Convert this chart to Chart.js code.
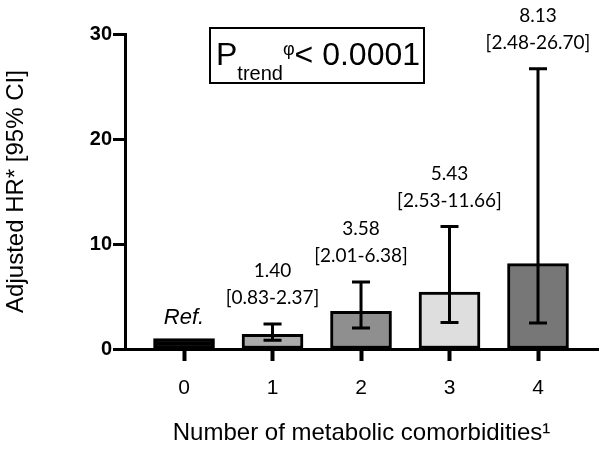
<!DOCTYPE html>
<html>
<head>
<meta charset="utf-8">
<script src="https://cdn.jsdelivr.net/npm/chart.js@4"></script>
<style>
  html, body { margin: 0; padding: 0; background: #fff; }
  #wrap { width: 604px; height: 453px; }
</style>
</head>
<body>
<div id="wrap"><canvas id="hrChart" width="604" height="453"></canvas></div>
<script>
// Données
const categories = [0, 1, 2, 3, 4];
const hrValues = [1.00, 1.40, 3.58, 5.43, 8.13];
const ciLow = [null, 0.83, 2.01, 2.53, 2.48];
const ciHigh = [null, 2.37, 6.38, 11.66, 26.70];
const barColors = ['#000000', '#ababab', '#8f8f8f', '#dedede', '#777777'];
const yTicks = [0, 10, 20, 30];

// Barres d'erreur + étiquettes au-dessus
const errorBarsPlugin = {
  id: 'errorBars',
  afterDatasetsDraw(chart) {
    const ctx = chart.ctx;
    const y = chart.scales.y;
    const meta = chart.getDatasetMeta(0);
    ctx.save();
    ctx.strokeStyle = '#000';
    ctx.lineWidth = 3;
    meta.data.forEach((bar, i) => {
      if (ciLow[i] === null) return;
      const yLo = y.getPixelForValue(ciLow[i]);
      const yHi = y.getPixelForValue(ciHigh[i]);
      ctx.beginPath();
      ctx.moveTo(bar.x, yLo);
      ctx.lineTo(bar.x, yHi);
      ctx.moveTo(bar.x - 9, yLo);
      ctx.lineTo(bar.x + 9, yLo);
      ctx.moveTo(bar.x - 9, yHi);
      ctx.lineTo(bar.x + 9, yHi);
      ctx.stroke();
    });

    ctx.fillStyle = '#000';
    ctx.textAlign = 'center';
    ctx.textBaseline = 'middle';
    meta.data.forEach((bar, i) => {
      if (ciHigh[i] === null) {
        ctx.font = 'italic 22px "Liberation Sans", Arial, sans-serif';
        ctx.fillText('Ref.', bar.x, y.getPixelForValue(hrValues[i]) - 21);
        return;
      }
      const capY = y.getPixelForValue(ciHigh[i]);
      ctx.font = '19px Lato, "Open Sans", sans-serif';
      ctx.fillText(hrValues[i].toFixed(2), bar.x, capY - 53);
      ctx.fillText('[' + ciLow[i].toFixed(2) + '-' + ciHigh[i].toFixed(2) + ']', bar.x, capY - 26);
    });
    ctx.restore();
  }
};

// Encadré P trend
const trendBoxPlugin = {
  id: 'trendBox',
  afterDraw(chart) {
    const ctx = chart.ctx;
    ctx.save();
    ctx.strokeStyle = '#000';
    ctx.lineWidth = 2;
    ctx.strokeRect(210, 28, 214, 55);
    ctx.fillStyle = '#000';
    ctx.textAlign = 'left';
    ctx.textBaseline = 'alphabetic';
    let x = 216;
    ctx.font = '32px "Liberation Sans", Arial, sans-serif';
    ctx.fillText('P', x, 65);
    x += ctx.measureText('P').width;
    ctx.font = '20px "Liberation Sans", Arial, sans-serif';
    ctx.fillText('trend', x, 80);
    x += ctx.measureText('trend').width;
    ctx.font = '18px "Liberation Sans", Arial, sans-serif';
    ctx.fillText('φ', x, 55);
    x += ctx.measureText('φ').width;
    ctx.font = '32px "Liberation Sans", Arial, sans-serif';
    ctx.fillText('< 0.0001', x, 65);
    ctx.restore();
  }
};

const ctx = document.getElementById('hrChart').getContext('2d');
const hrChart = new Chart(ctx, {
  type: 'bar',
  data: {
    datasets: [{
      data: categories.map((c, i) => ({ x: c, y: hrValues[i] })),
      backgroundColor: barColors,
      borderColor: '#000',
      borderWidth: 3,
      borderSkipped: false,
      barThickness: 61
    }]
  },
  options: {
    responsive: false,
    animation: false,
    layout: { padding: { top: 34, right: 6, left: 0, bottom: 0 } },
    plugins: { legend: { display: false }, tooltip: { enabled: false } },
    scales: {
      x: {
        type: 'linear',
        offset: false,
        min: -0.667,
        max: 4.678,
        afterBuildTicks: (scale) => { scale.ticks = categories.map(v => ({ value: v })); },
        afterFit: (scale) => { scale.height = 104; },
        grid: { offset: false, drawOnChartArea: false, drawTicks: true, tickLength: 12, tickWidth: 4, tickColor: '#000' },
        border: { display: true, width: 3, color: '#000' },
        ticks: {
          color: '#000',
          padding: 15,
          font: { family: '"Liberation Sans", Arial, sans-serif', size: 21 },
          callback: (v) => String(v)
        },
        title: {
          display: true,
          text: 'Number of metabolic comorbidities¹',
          color: '#000',
          font: { family: '"Liberation Sans", Arial, sans-serif', size: 24 },
          padding: { bottom: 5, top: 0 }
        }
      },
      y: {
        min: 0,
        max: 30,
        afterBuildTicks: (scale) => { scale.ticks = yTicks.map(v => ({ value: v })); },
        afterFit: (scale) => { scale.width = 125; },
        grid: { drawOnChartArea: false, drawTicks: true, tickLength: 12, tickWidth: 3, tickColor: '#000' },
        border: { display: true, width: 3, color: '#000' },
        ticks: {
          color: '#000',
          padding: 1,
          font: { family: '"Liberation Sans", Arial, sans-serif', size: 20, weight: 'bold' }
        },
        title: {
          display: true,
          text: 'Adjusted HR* [95% CI]',
          color: '#000',
          font: { family: '"Liberation Sans", Arial, sans-serif', size: 24 },
          padding: { top: 2, bottom: 0 }
        }
      }
    }
  },
  plugins: [errorBarsPlugin, trendBoxPlugin]
});
</script>
</body>
</html>
